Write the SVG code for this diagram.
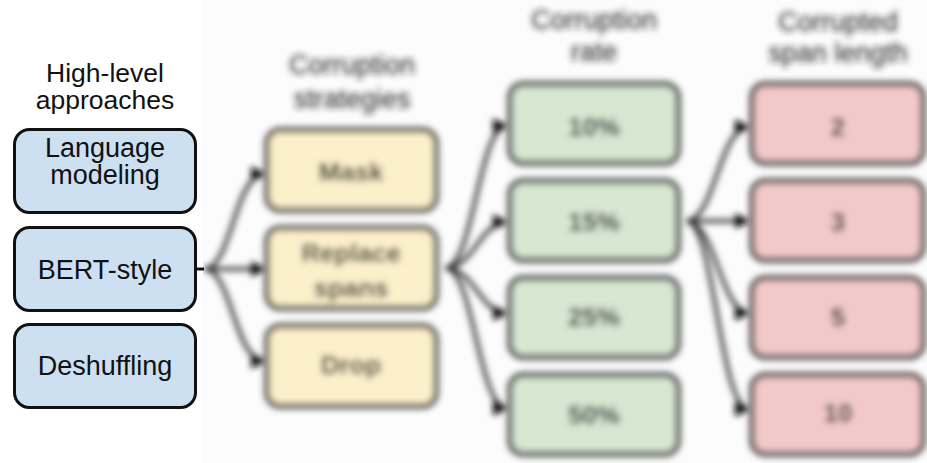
<svg xmlns="http://www.w3.org/2000/svg" width="927" height="463" viewBox="0 0 927 463">
  <defs>
    <style>
      .t{font-family:"Liberation Sans",Arial,Helvetica,sans-serif;text-anchor:middle}
      .hl{font-size:27px;fill:#111}
      .ht{font-size:26.5px;fill:#111}
      .bt{font-size:27px;fill:#222}
      .nt{font-size:26px;fill:#111;font-weight:bold}
      .blue{fill:#cde0f2;stroke:#111;stroke-width:3}
      .yel{fill:#fcf0cb;stroke:#333;stroke-width:5}
      .grn{fill:#d6e7d2;stroke:#333;stroke-width:5}
      .red{fill:#f2c9c9;stroke:#333;stroke-width:5}
      .edge{fill:none;stroke:#3a3a3a;stroke-width:4;marker-end:url(#arr)}
    </style>
    <marker id="arr" viewBox="0 0 10 10" refX="9" refY="5" markerWidth="4" markerHeight="4" orient="auto" markerUnits="strokeWidth">
      <path d="M0,0 L10,5 L0,10 z" fill="#111"/>
    </marker>
    <filter id="blur" filterUnits="userSpaceOnUse" x="0" y="0" width="927" height="463">
      <feGaussianBlur stdDeviation="3"/>
    </filter>
    <clipPath id="rclip">
      <rect x="203" y="0" width="724" height="463"/>
    </clipPath>
  </defs>

  <rect x="0" y="0" width="927" height="463" fill="#ffffff"/>
  <rect x="203" y="0" width="724" height="463" fill="#fcfcfc"/>

  <!-- left, crisp part -->
  <g id="title-high-level">
    <text class="t ht" x="105" y="82">High-level</text>
    <text class="t ht" x="105" y="109">approaches</text>
  </g>
  <g id="node-language-modeling">
    <rect class="blue" x="14.5" y="129.5" width="181" height="83" rx="15"/>
    <text class="t hl" x="105" y="157">Language</text>
    <text class="t hl" x="105" y="184">modeling</text>
  </g>
  <g id="node-bert-style">
    <rect class="blue" x="14.5" y="227.5" width="181" height="83" rx="15"/>
    <text class="t hl" x="105" y="279">BERT-style</text>
  </g>
  <g id="node-deshuffling">
    <rect class="blue" x="14.5" y="324.5" width="181" height="83" rx="15"/>
    <text class="t hl" x="105" y="375">Deshuffling</text>
  </g>

  <!-- connectors -->
  <g id="connectors">
    <line x1="196" y1="269" x2="204" y2="269" stroke="#111" stroke-width="3"/>
    <g clip-path="url(#rclip)">
      <g filter="url(#blur)">
        <path class="edge" d="M204,269 C232,269 234,174 265,174"/>
        <path class="edge" d="M204,269 L265,269"/>
        <path class="edge" d="M204,269 C232,269 234,361 265,361"/>
        <path class="edge" d="M445,268 C474,268 478,126 507,126"/>
        <path class="edge" d="M445,268 C474,268 480,222 507,222"/>
        <path class="edge" d="M445,268 C474,268 480,313 507,313"/>
        <path class="edge" d="M445,268 C474,268 478,408 507,408"/>
        <path class="edge" d="M686,221 C715,221 719,127 749,127"/>
        <path class="edge" d="M686,221 L749,221"/>
        <path class="edge" d="M686,221 C715,221 721,313 749,313"/>
        <path class="edge" d="M686,221 C715,221 719,409 749,409"/>
      </g>
    </g>
  </g>

  <!-- right, blurred part -->
  <g clip-path="url(#rclip)">
    <g filter="url(#blur)">
      <g id="title-strategies">
        <text class="t bt" x="352" y="74">Corruption</text>
        <text class="t bt" x="352" y="108">strategies</text>
      </g>
      <g id="node-mask">
        <rect class="yel" x="267" y="130" width="169" height="80" rx="13"/>
        <text class="t nt" x="351" y="181">Mask</text>
      </g>
      <g id="node-replace-spans">
        <rect class="yel" x="267" y="228" width="169" height="80" rx="13"/>
        <text class="t nt" x="351" y="262">Replace</text>
        <text class="t nt" x="351" y="297">spans</text>
      </g>
      <g id="node-drop">
        <rect class="yel" x="267" y="326" width="169" height="80" rx="13"/>
        <text class="t nt" x="351" y="374">Drop</text>
      </g>

      <g id="title-rate">
        <text class="t bt" x="594" y="29">Corruption</text>
        <text class="t bt" x="594" y="61">rate</text>
      </g>
      <g id="node-10pct">
        <rect class="grn" x="510" y="84" width="168" height="79" rx="13"/>
        <text class="t nt" x="594" y="136">10%</text>
      </g>
      <g id="node-15pct">
        <rect class="grn" x="510" y="181" width="168" height="79" rx="13"/>
        <text class="t nt" x="594" y="231">15%</text>
      </g>
      <g id="node-25pct">
        <rect class="grn" x="510" y="278" width="168" height="79" rx="13"/>
        <text class="t nt" x="594" y="326">25%</text>
      </g>
      <g id="node-50pct">
        <rect class="grn" x="510" y="375" width="168" height="79" rx="13"/>
        <text class="t nt" x="594" y="424">50%</text>
      </g>

      <g id="title-span-length">
        <text class="t bt" x="838" y="31">Corrupted</text>
        <text class="t bt" x="838" y="62">span length</text>
      </g>
      <g id="node-span-2">
        <rect class="red" x="752" y="84" width="171" height="79" rx="13"/>
        <text class="t nt" x="838" y="136">2</text>
      </g>
      <g id="node-span-3">
        <rect class="red" x="752" y="181" width="171" height="79" rx="13"/>
        <text class="t nt" x="838" y="231">3</text>
      </g>
      <g id="node-span-5">
        <rect class="red" x="752" y="278" width="171" height="79" rx="13"/>
        <text class="t nt" x="838" y="326">5</text>
      </g>
      <g id="node-span-10">
        <rect class="red" x="752" y="375" width="171" height="79" rx="13"/>
        <text class="t nt" x="838" y="422">10</text>
      </g>
    </g>
  </g>
</svg>
